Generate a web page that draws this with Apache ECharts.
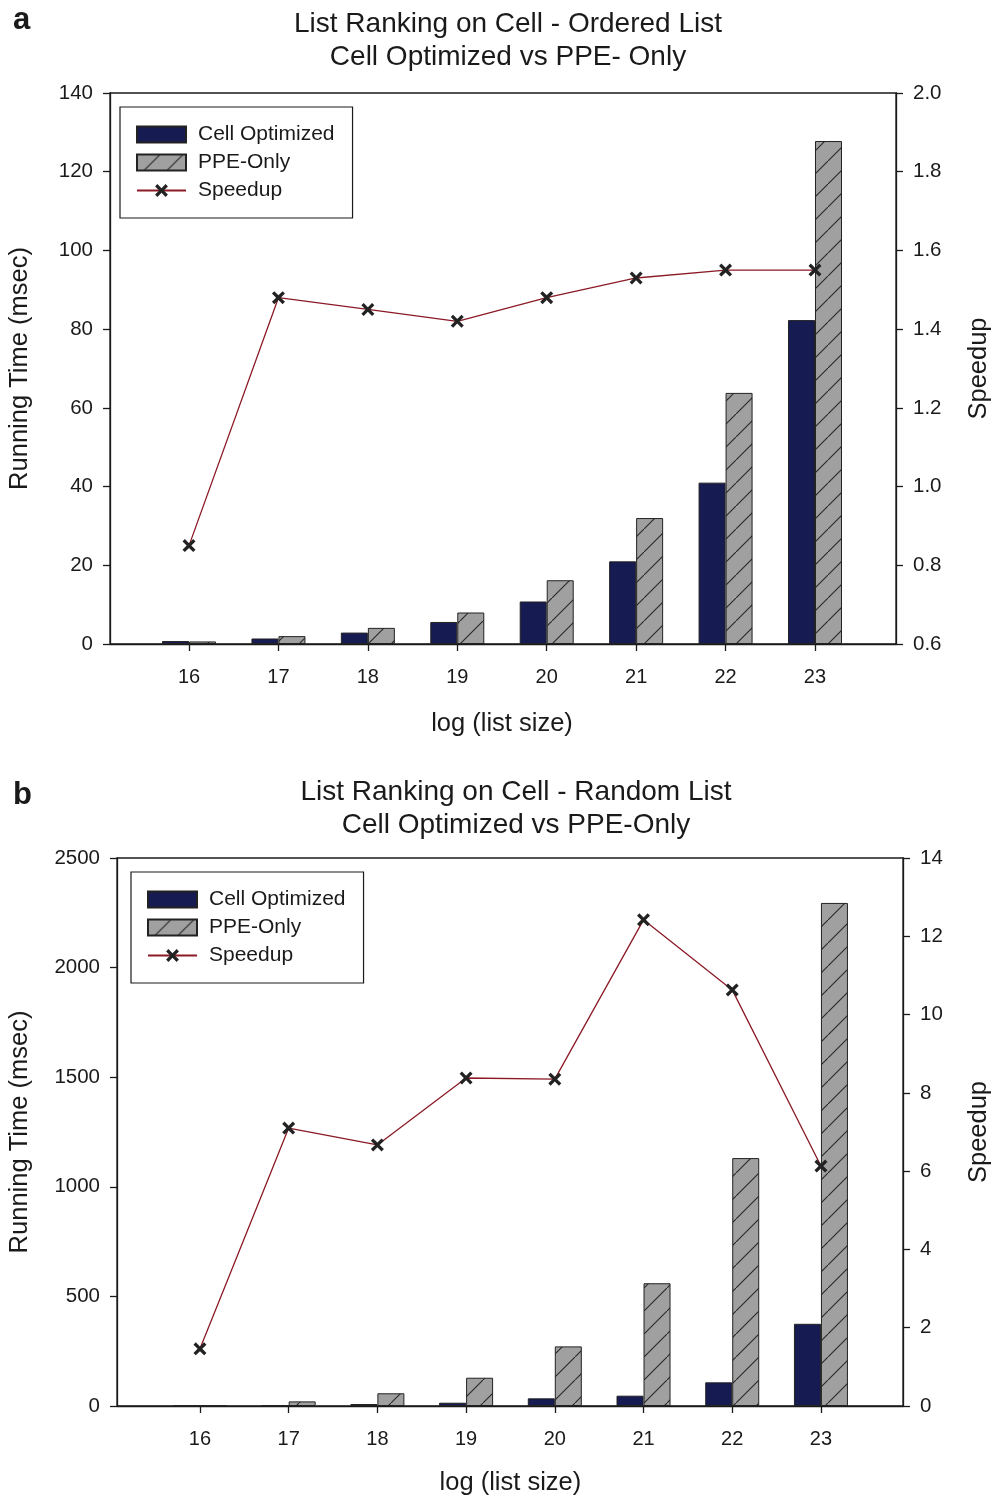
<!DOCTYPE html>
<html>
<head>
<meta charset="utf-8">
<script src="https://cdn.jsdelivr.net/npm/echarts@6/dist/echarts.min.js"></script>
<style>html,body{margin:0;padding:0;background:#fff}#c{width:993px;height:1496px}</style>
</head>
<body>
<div id="c"></div>
<script>
const categories = ['16','17','18','19','20','21','22','23'];
const cellA = [0.75, 1.4, 2.9, 5.6, 10.8, 21, 41, 82.3];
const ppeA = [0.65, 2.0, 4.1, 8.0, 16.2, 32, 63.8, 127.8];
const speedupA = [0.85, 1.48, 1.45, 1.42, 1.48, 1.53, 1.55, 1.55];
const cellB = [0.8, 1.5, 9, 15, 35, 47, 108, 375];
const ppeB = [1.2, 21, 58, 129, 272, 560, 1131, 2295];
const speedupB = [1.46, 7.10, 6.67, 8.38, 8.35, 12.42, 10.63, 6.13];
const titleA = 'List Ranking on Cell - Ordered List\nCell Optimized vs PPE- Only';
const titleB = 'List Ranking on Cell - Random List\nCell Optimized vs PPE-Only';

const FONT = '"Liberation Sans", Arial, Helvetica, sans-serif';
const INK = '#1a1a1a';
function hatch(){
  const c = document.createElement('canvas'); c.width = 23; c.height = 23;
  const g = c.getContext('2d');
  g.fillStyle = '#a0a0a0'; g.fillRect(0,0,23,23);
  g.strokeStyle = '#262626'; g.lineWidth = 1.1;
  g.beginPath(); g.moveTo(-3,26); g.lineTo(26,-3); g.stroke();
  return c;
}
const hatchPat = {image: hatch(), repeat: 'repeat'};
const X_SYM = 'path://M0,2.5 L2.5,0 L7,4.5 L11.5,0 L14,2.5 L9.5,7 L14,11.5 L11.5,14 L7,9.5 L2.5,14 L0,11.5 L4.5,7 Z';

const lineStyle = {color: INK, width: 1.3};
function frameX(gi){
  return {gridIndex: gi, type: 'value', min: 0, max: 1, axisLine: {show: true, lineStyle}, axisTick: {show: false}, axisLabel: {show: false}, splitLine: {show: false}};
}
function dataX(gi, margin, nameGap){
  return {gridIndex: gi, type: 'category', data: categories, axisLine: {show: false},
    axisTick: {show: true, alignWithLabel: true, length: 7, lineStyle},
    axisLabel: {fontFamily: FONT, fontSize: 20, color: INK, margin: margin},
    name: 'log (list size)', nameLocation: 'middle', nameGap: nameGap,
    nameTextStyle: {fontFamily: FONT, fontSize: 25.5, color: INK}};
}
function visY(gi, pos, min, max, interval, name, gap, fmt){
  return {gridIndex: gi, type: 'value', position: pos, min, max, interval,
    axisLine: {show: true, lineStyle}, axisTick: {show: true, length: 7, lineStyle},
    axisLabel: {fontFamily: FONT, fontSize: 20.5, color: INK, margin: 17, formatter: fmt},
    splitLine: {show: false}, name, nameLocation: 'middle', nameGap: gap,
    nameTextStyle: {fontFamily: FONT, fontSize: 25.5, color: INK}};
}
function hidY(gi, min, max){ return {gridIndex: gi, type: 'value', min, max, show: false, splitLine: {show: false}}; }
function legend(left, top){
  return {orient: 'vertical', left, top, itemWidth: 49, itemHeight: 16, itemGap: 7,
    padding: [17, 18, 17, 16], borderColor: INK, borderWidth: 1.2, backgroundColor: '#fff',
    textStyle: {fontFamily: FONT, fontSize: 21, color: INK, lineHeight: 21, padding: [0,0,0,7]},
    data: [{name: 'Cell Optimized', icon: 'rect'}, {name: 'PPE-Only', icon: 'rect'}, {name: 'Speedup'}]};
}
function bars(xi, yi, cell, ppe, yli, sp){
  return [
    {name: 'Cell Optimized', type: 'bar', xAxisIndex: xi, yAxisIndex: yi, data: cell, barWidth: 27, barGap: '0%',
      itemStyle: {color: '#161b52', borderColor: '#222', borderWidth: 1}},
    {name: 'PPE-Only', type: 'bar', xAxisIndex: xi, yAxisIndex: yi, data: ppe, barWidth: 27, barGap: '0%',
      itemStyle: {color: hatchPat, borderColor: '#222', borderWidth: 1}},
    {name: 'Speedup', type: 'line', xAxisIndex: xi, yAxisIndex: yli, data: sp, symbol: X_SYM, symbolSize: 13,
      lineStyle: {color: '#8b1a26', width: 1.3}, itemStyle: {color: '#222'}, z: 5}
  ];
}
const titleStyle = {fontFamily: FONT, fontSize: 28, fontWeight: 'normal', color: INK, lineHeight: 33};
const chart = echarts.init(document.getElementById('c'));
chart.setOption({
  animation: false,
  backgroundColor: '#fff',
  title: [
    {text: 'a', left: 8, top: 0, textStyle: {fontFamily: FONT, fontSize: 31, fontWeight: 'bold', color: INK}},
    {text: titleA, left: 503, top: 3, textAlign: 'center', textStyle: titleStyle},
    {text: 'b', left: 8, top: 775, textStyle: {fontFamily: FONT, fontSize: 31, fontWeight: 'bold', color: INK}},
    {text: titleB, left: 511, top: 771, textAlign: 'center', textStyle: titleStyle}
  ],
  grid: [
    {left: 110, right: 97, top: 93, height: 551, show: true, borderColor: INK, borderWidth: 1.3, outerBoundsMode: 'none', containLabel: false},
    {left: 144.3, width: 715.4, top: 93, height: 551, outerBoundsMode: 'none', containLabel: false},
    {left: 117, right: 90, top: 858, height: 548, show: true, borderColor: INK, borderWidth: 1.3, outerBoundsMode: 'none', containLabel: false},
    {left: 155.6, width: 709.7, top: 858, height: 548, outerBoundsMode: 'none', containLabel: false}
  ],
  xAxis: [frameX(0), dataX(1, 23, 67), frameX(2), dataX(3, 23, 64)],
  yAxis: [
    visY(0, 'left', 0, 140, 20, 'Running Time (msec)', 77, v => String(v)),
    visY(0, 'right', 0.6, 2.0, 0.2, 'Speedup', 70, v => v.toFixed(1)),
    hidY(1, 0, 140), hidY(1, 0.6, 2.0),
    visY(2, 'left', 0, 2500, 500, 'Running Time (msec)', 84, v => String(v)),
    visY(2, 'right', 0, 14, 2, 'Speedup', 63, v => String(v)),
    hidY(3, 0, 2500), hidY(3, 0, 14)
  ],
  legend: [legend(120, 107), legend(131, 872)],
  series: [].concat(bars(1, 2, cellA, ppeA, 3, speedupA), bars(3, 6, cellB, ppeB, 7, speedupB))
});
</script>
</body>
</html>
